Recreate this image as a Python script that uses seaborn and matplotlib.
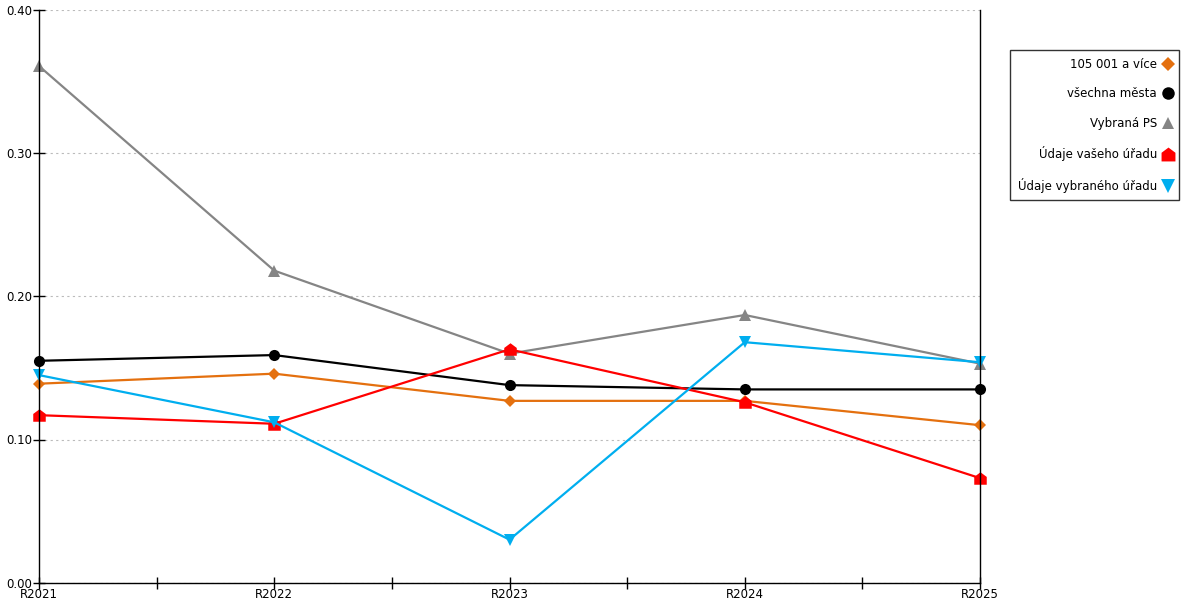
import matplotlib
matplotlib.use("Agg")
import matplotlib.pyplot as plt
from matplotlib.lines import Line2D
from matplotlib.ticker import MultipleLocator
import pandas as pd
import seaborn as sns

# data
roky = ["R2021", "R2022", "R2023", "R2024", "R2025"]
mesta_105 = [0.139, 0.146, 0.127, 0.127, 0.110]
vsechna_mesta = [0.155, 0.159, 0.138, 0.135, 0.135]
vybrana_ps = [0.361, 0.218, 0.160, 0.187, 0.153]
vas_urad = [0.117, 0.111, 0.163, 0.126, 0.073]
vybrany_urad = [0.145, 0.112, 0.030, 0.168, 0.154]

nazvy = ["105 001 a více", "všechna města", "Vybraná PS",
         "Údaje vašeho úřadu", "Údaje vybraného úřadu"]
serie = [mesta_105, vsechna_mesta, vybrana_ps, vas_urad, vybrany_urad]

barvy = ["#E4700F", "#000000", "#858585", "#FF0000", "#00AEEF"]
domek = [(-1, -1), (1, -1), (1, 0.25), (0, 1), (-1, 0.25)]
znacky = ["D", "o", "^", domek, "v"]
velikosti = [6, 8, 8, 9, 9]

df = pd.DataFrame({
    "rok": roky * len(serie),
    "hodnota": [v for s in serie for v in s],
    "rada": [n for n in nazvy for _ in roky],
})

sns.set_style("white")
plt.rcParams["font.family"] = ["DejaVu Sans"]
plt.rcParams["text.color"] = "black"
plt.rcParams["xtick.color"] = "black"
plt.rcParams["ytick.color"] = "black"

fig = plt.figure(figsize=(12, 6), dpi=100)
ax = fig.add_axes([0.0325, 0.029, 0.7842, 0.954])

for nazev, barva, znacka, vel in zip(nazvy, barvy, znacky, velikosti):
    sub = df[df["rada"] == nazev]
    sns.lineplot(data=sub, x="rok", y="hodnota", color=barva, marker=znacka,
                 markersize=vel, markeredgewidth=0, linewidth=1.6, ax=ax,
                 sort=False, clip_on=False)

ax.set_xlim(0, len(roky) - 1)
ax.set_ylim(0, 0.40)
ax.set_xlabel("")
ax.set_ylabel("")
ax.set_yticks([0, 0.1, 0.2, 0.3, 0.4])
ax.set_yticklabels(["0.00", "0.10", "0.20", "0.30", "0.40"])
ax.xaxis.set_minor_locator(MultipleLocator(0.5))
ax.tick_params(axis="both", which="both", direction="inout", length=8,
               width=1, color="black", labelsize=8.5, pad=1,
               bottom=True, left=True, labelcolor="black")
ax.tick_params(axis="x", which="major", pad=0)
ax.yaxis.grid(True, linestyle=(0, (2, 3)), color="#bbbbbb", linewidth=0.8)
ax.xaxis.grid(False)

ax.spines["top"].set_visible(False)
for s in ["left", "bottom", "right"]:
    ax.spines[s].set_color("black")
    ax.spines[s].set_linewidth(1)

handles = [Line2D([], [], color=b, marker=z, linestyle="none",
                  markersize=v + 1, markeredgewidth=0)
           for b, z, v in zip(barvy, znacky, velikosti)]
leg = fig.legend(handles, nazvy, loc="upper left",
                 bbox_to_anchor=(1010 / 1200, 1 - 50 / 600),
                 markerfirst=False, frameon=True, fancybox=False,
                 fontsize=8.5, labelspacing=1.4, handletextpad=0.55,
                 handlelength=0.7, borderpad=0.65, borderaxespad=0)
leg.get_frame().set_edgecolor("black")
leg.get_frame().set_linewidth(1)
for t in leg.get_texts():
    t.set_ha("right")
    t.set_color("black")

fig.savefig("out.png", dpi=100)
